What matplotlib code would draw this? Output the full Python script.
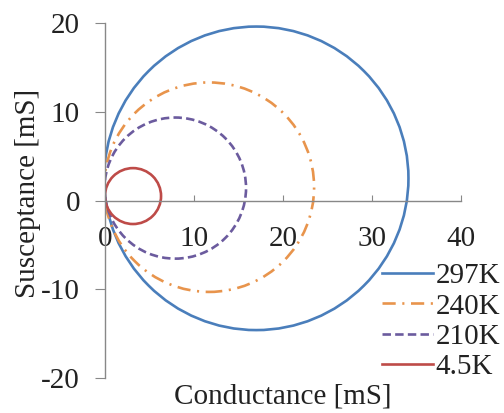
import matplotlib.pyplot as plt
from matplotlib.patches import Circle
from matplotlib.lines import Line2D

plt.rcParams['font.family'] = ['Liberation Serif', 'DejaVu Serif']
plt.rcParams['axes.unicode_minus'] = False

# each curve is a near-perfect circle in the G-B plane: centre (G, B) and radius
labels = ["297K", "240K", "210K", "4.5K"]
centre_g = [17.0, 11.7, 7.9, 3.15]
centre_b = [2.5, 1.5, 1.4, 0.5]
radius = [17.1, 11.8, 7.95, 3.15]

x_ticks = [0, 10, 20, 30, 40]
y_ticks = [-20, -10, 0, 10, 20]

colors = ["#4A7EBB", "#E8944C", "#6B5B9E", "#BE4B48"]
styles = ["-", (0, (5, 2.5, 0.8, 2.5)), (0, (3.2, 1.6)), "-"]

fig = plt.figure(figsize=(5.04, 4.13), dpi=100)
ax = fig.add_axes([0.2083, 0.0847, 0.7063, 0.8596])

for g, b, r, c, ls in zip(centre_g, centre_b, radius, colors, styles):
    ax.add_patch(Circle((g, b), r, fill=False, edgecolor=c, linestyle=ls, linewidth=1.9))

ax.set_xlim(0, 40)
ax.set_ylim(-20, 20)
ax.set_xticks(x_ticks)
ax.set_yticks(y_ticks)

for s in ["top", "right"]:
    ax.spines[s].set_visible(False)
ax.spines["bottom"].set_position(("data", 0))
for s in ["bottom", "left"]:
    ax.spines[s].set_color("#888888")
    ax.spines[s].set_linewidth(1.0)

ax.tick_params(axis="x", direction="in", length=4, pad=18, labelsize=21, colors="#222222")
ax.tick_params(axis="y", direction="out", length=7, pad=11, labelsize=21, colors="#222222")
ax.tick_params(axis="both", color="#888888")

fig.text(0.056, 0.532, "Susceptance [mS]", rotation=90, fontsize=21, ha="center", va="center", color="#222222")
fig.text(0.562, 0.039, "Conductance [mS]", fontsize=21, ha="center", va="center", color="#222222")

handles = [Line2D([], [], color=c, linestyle=ls, linewidth=1.9) for c, ls in zip(colors, styles)]
fig.legend(handles, labels, loc="upper left", bbox_to_anchor=(0.757, 0.363), frameon=False,
           fontsize=21, handlelength=1.75, handletextpad=0.1, labelspacing=0.13,
           borderpad=0, borderaxespad=0, labelcolor="#222222")

fig.savefig("out.png", dpi=100)
